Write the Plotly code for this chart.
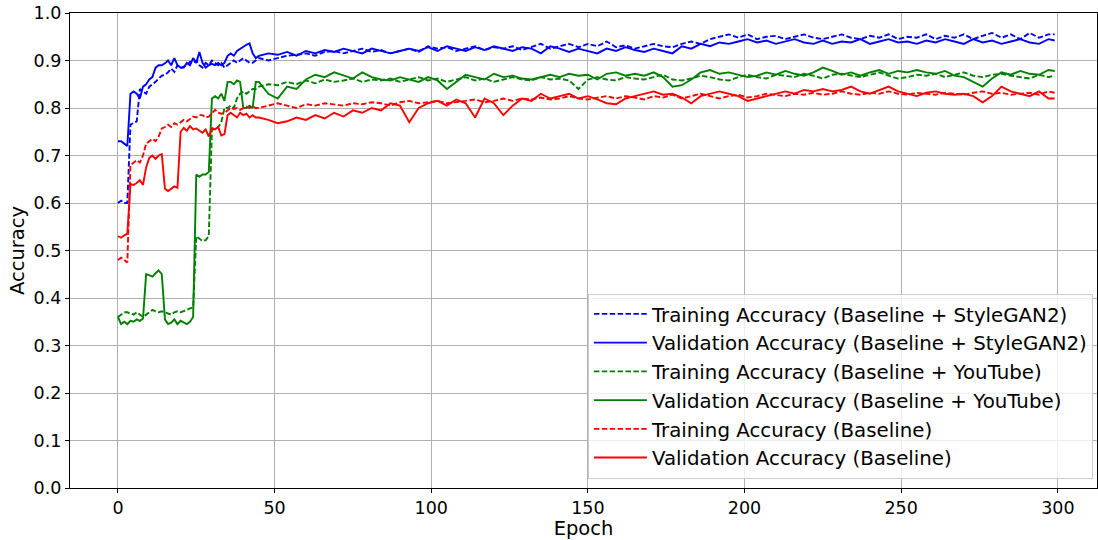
import plotly.graph_objects as go

# epochs: every epoch up to 44, then every 3rd epoch, plus the last one
epochs = list(range(0, 45)) + list(range(45, 298, 3)) + [299]

train_stylegan2 = [
    0.600, 0.605, 0.600, 0.600, 0.765, 0.768, 0.772, 0.840, 0.835, 0.830,
    0.845, 0.850, 0.855, 0.862, 0.868, 0.870, 0.875, 0.883, 0.876, 0.890,
    0.884, 0.887, 0.890, 0.897, 0.895, 0.900, 0.890, 0.885, 0.895, 0.890,
    0.900, 0.895, 0.890, 0.895, 0.885, 0.890, 0.895, 0.900, 0.895, 0.900,
    0.905, 0.900, 0.895, 0.895, 0.900,
    0.905, 0.900, 0.905, 0.910, 0.912, 0.915, 0.910, 0.918, 0.920, 0.915,
    0.920, 0.925, 0.918, 0.922, 0.915, 0.920, 0.925, 0.918, 0.930, 0.925,
    0.928, 0.920, 0.925, 0.930, 0.922, 0.928, 0.925, 0.930, 0.922, 0.928,
    0.935, 0.925, 0.930, 0.935, 0.928, 0.935, 0.930, 0.940, 0.928, 0.932,
    0.925, 0.930, 0.935, 0.930, 0.928, 0.935, 0.940, 0.935, 0.945, 0.950,
    0.955, 0.948, 0.955, 0.945, 0.950, 0.952, 0.945, 0.950, 0.955, 0.948,
    0.945, 0.950, 0.955, 0.948, 0.945, 0.952, 0.948, 0.955, 0.945, 0.950,
    0.948, 0.955, 0.945, 0.952, 0.948, 0.955, 0.945, 0.952, 0.958, 0.948,
    0.955, 0.945, 0.958, 0.948, 0.955, 0.955,
]
val_stylegan2 = [
    0.730, 0.730, 0.725, 0.720, 0.830, 0.835, 0.830, 0.820, 0.845, 0.850,
    0.860, 0.865, 0.885, 0.890, 0.890, 0.894, 0.900, 0.890, 0.905, 0.890,
    0.885, 0.885, 0.895, 0.890, 0.905, 0.895, 0.918, 0.895, 0.885, 0.890,
    0.893, 0.890, 0.895, 0.890, 0.895, 0.910, 0.915, 0.910, 0.920, 0.925,
    0.930, 0.933, 0.936, 0.915, 0.905,
    0.910, 0.915, 0.912, 0.918, 0.910, 0.920, 0.915, 0.922, 0.918, 0.925,
    0.920, 0.915, 0.925, 0.920, 0.915, 0.920, 0.925, 0.920, 0.928, 0.920,
    0.930, 0.925, 0.920, 0.928, 0.922, 0.930, 0.925, 0.920, 0.928, 0.925,
    0.915, 0.930, 0.925, 0.918, 0.925, 0.920, 0.915, 0.925, 0.920, 0.928,
    0.922, 0.918, 0.925, 0.920, 0.915, 0.930, 0.925, 0.935, 0.930, 0.938,
    0.935, 0.940, 0.945, 0.938, 0.942, 0.935, 0.940, 0.945, 0.938, 0.935,
    0.942, 0.935, 0.940, 0.938, 0.945, 0.935, 0.940, 0.945, 0.938, 0.940,
    0.935, 0.942, 0.938, 0.945, 0.940, 0.935, 0.945, 0.938, 0.942, 0.935,
    0.940, 0.945, 0.938, 0.935, 0.945, 0.942,
]
train_youtube = [
    0.360, 0.365, 0.370, 0.370, 0.368, 0.365, 0.370, 0.365, 0.360, 0.365,
    0.370, 0.375, 0.372, 0.370, 0.372, 0.370, 0.368, 0.365, 0.370, 0.372,
    0.370, 0.372, 0.375, 0.378, 0.380, 0.530, 0.525, 0.520, 0.522, 0.530,
    0.755, 0.755, 0.760, 0.770, 0.800, 0.800, 0.805, 0.800, 0.820, 0.830,
    0.835, 0.830, 0.835, 0.840, 0.840,
    0.845, 0.850, 0.848, 0.855, 0.850, 0.858, 0.852, 0.860, 0.855, 0.858,
    0.862, 0.855, 0.860, 0.858, 0.862, 0.855, 0.860, 0.865, 0.858, 0.862,
    0.855, 0.860, 0.865, 0.858, 0.862, 0.855, 0.860, 0.865, 0.860, 0.858,
    0.865, 0.860, 0.862, 0.858, 0.840, 0.860, 0.865, 0.860, 0.858, 0.865,
    0.862, 0.860, 0.865, 0.870, 0.860, 0.858, 0.862, 0.868, 0.865, 0.860,
    0.858, 0.865, 0.870, 0.865, 0.862, 0.870, 0.868, 0.865, 0.872, 0.868,
    0.862, 0.870, 0.872, 0.868, 0.865, 0.870, 0.875, 0.868, 0.862, 0.865,
    0.870, 0.868, 0.872, 0.865, 0.870, 0.875, 0.868, 0.865, 0.870, 0.872,
    0.868, 0.865, 0.862, 0.870, 0.865, 0.868,
]
val_youtube = [
    0.360, 0.345, 0.350, 0.345, 0.352, 0.350, 0.355, 0.352, 0.357, 0.450,
    0.448, 0.445, 0.452, 0.458, 0.450, 0.355, 0.345, 0.348, 0.355, 0.345,
    0.352, 0.348, 0.345, 0.350, 0.360, 0.660, 0.655, 0.660, 0.660, 0.665,
    0.820, 0.825, 0.820, 0.830, 0.815, 0.855, 0.855, 0.850, 0.858, 0.855,
    0.800, 0.800, 0.805, 0.800, 0.855,
    0.855, 0.830, 0.820, 0.845, 0.840, 0.860, 0.870, 0.865, 0.875, 0.868,
    0.862, 0.875, 0.865, 0.860, 0.858, 0.865, 0.860, 0.855, 0.865, 0.858,
    0.840, 0.855, 0.870, 0.865, 0.860, 0.872, 0.865, 0.868, 0.862, 0.860,
    0.865, 0.870, 0.865, 0.872, 0.868, 0.870, 0.860, 0.872, 0.875, 0.868,
    0.872, 0.868, 0.875, 0.865, 0.845, 0.848, 0.860, 0.875, 0.880, 0.872,
    0.875, 0.870, 0.865, 0.868, 0.875, 0.870, 0.878, 0.872, 0.868, 0.875,
    0.885, 0.878, 0.870, 0.875, 0.868, 0.875, 0.880, 0.872, 0.878, 0.875,
    0.880, 0.875, 0.872, 0.878, 0.868, 0.865, 0.855, 0.845, 0.862, 0.875,
    0.870, 0.878, 0.872, 0.870, 0.880, 0.878,
]
train_baseline = [
    0.480, 0.485, 0.480, 0.475, 0.680, 0.685, 0.690, 0.685, 0.700, 0.725,
    0.730, 0.735, 0.730, 0.740, 0.757, 0.760, 0.765, 0.760, 0.768, 0.765,
    0.770, 0.775, 0.772, 0.778, 0.782, 0.780, 0.785, 0.785, 0.780, 0.782,
    0.790, 0.796, 0.790, 0.788, 0.790, 0.795, 0.800, 0.798, 0.800, 0.796,
    0.800, 0.803, 0.800, 0.803, 0.800,
    0.800, 0.805, 0.810, 0.805, 0.800, 0.808, 0.805, 0.810, 0.808, 0.805,
    0.810, 0.808, 0.812, 0.810, 0.805, 0.812, 0.815, 0.810, 0.812, 0.815,
    0.810, 0.812, 0.815, 0.818, 0.812, 0.815, 0.820, 0.815, 0.820, 0.818,
    0.822, 0.818, 0.820, 0.825, 0.820, 0.818, 0.822, 0.825, 0.820, 0.825,
    0.822, 0.818, 0.825, 0.822, 0.828, 0.820, 0.825, 0.830, 0.825, 0.820,
    0.825, 0.828, 0.822, 0.825, 0.830, 0.828, 0.825, 0.830, 0.828, 0.832,
    0.828, 0.830, 0.835, 0.830, 0.828, 0.832, 0.830, 0.835, 0.830, 0.828,
    0.832, 0.830, 0.828, 0.832, 0.830, 0.828, 0.832, 0.835, 0.830, 0.832,
    0.828, 0.830, 0.832, 0.828, 0.835, 0.832,
]
val_baseline = [
    0.530, 0.527, 0.532, 0.535, 0.640, 0.638, 0.642, 0.648, 0.638, 0.675,
    0.695, 0.700, 0.693, 0.700, 0.703, 0.630, 0.625, 0.630, 0.635, 0.632,
    0.750, 0.758, 0.752, 0.762, 0.755, 0.757, 0.752, 0.748, 0.755, 0.740,
    0.758, 0.755, 0.760, 0.742, 0.745, 0.785, 0.790, 0.785, 0.780, 0.790,
    0.785, 0.788, 0.780, 0.785, 0.780,
    0.780, 0.775, 0.768, 0.772, 0.780, 0.775, 0.785, 0.778, 0.790, 0.782,
    0.795, 0.790, 0.800, 0.795, 0.810, 0.805, 0.770, 0.800, 0.810, 0.815,
    0.805, 0.818, 0.810, 0.780, 0.820, 0.810, 0.785, 0.805, 0.820, 0.815,
    0.830, 0.820, 0.825, 0.830, 0.820, 0.825, 0.818, 0.810, 0.808, 0.820,
    0.825, 0.830, 0.835, 0.828, 0.830, 0.822, 0.810, 0.825, 0.830, 0.835,
    0.830, 0.825, 0.815, 0.820, 0.825, 0.830, 0.835, 0.830, 0.838, 0.835,
    0.840, 0.835, 0.838, 0.845, 0.835, 0.830, 0.838, 0.845, 0.835, 0.830,
    0.825, 0.832, 0.835, 0.830, 0.828, 0.830, 0.825, 0.812, 0.825, 0.845,
    0.835, 0.830, 0.825, 0.835, 0.820, 0.820,
]

series = [
    ("Training Accuracy (Baseline + StyleGAN2)", train_stylegan2, "#0000ff", True),
    ("Validation Accuracy (Baseline + StyleGAN2)", val_stylegan2, "#0000ff", False),
    ("Training Accuracy (Baseline + YouTube)", train_youtube, "#008000", True),
    ("Validation Accuracy (Baseline + YouTube)", val_youtube, "#008000", False),
    ("Training Accuracy (Baseline)", train_baseline, "#ff0000", True),
    ("Validation Accuracy (Baseline)", val_baseline, "#ff0000", False),
]

x_ticks = [0, 50, 100, 150, 200, 250, 300]
y_ticks = [0.0, 0.1, 0.2, 0.3, 0.4, 0.5, 0.6, 0.7, 0.8, 0.9, 1.0]

FONT = "DejaVu Sans"

fig = go.Figure()
for i, (name, vals, color, dashed) in enumerate(series):
    fig.add_trace(go.Scatter(
        x=epochs, y=vals, mode="lines", name=name, legendgroup=f"g{i}",
        line=dict(color=color, width=1.9, dash="5.5px,2.4px" if dashed else "solid"),
    ))

axis_common = dict(
    showline=True, linecolor="black", linewidth=1.1, mirror=True,
    showgrid=True, gridcolor="#b0b0b0", gridwidth=1,
    ticks="outside", ticklen=4, tickcolor="black", tickwidth=1,
    tickfont=dict(family=FONT, size=17.5, color="black"),
    zeroline=False,
)

fig.update_layout(
    width=1098, height=540,
    margin=dict(l=70, r=1, t=13, b=52),
    paper_bgcolor="white", plot_bgcolor="white",
    font=dict(family=FONT, size=17.5, color="black"),
    xaxis=dict(range=[-15.3, 312.5], tickvals=x_ticks,
               title=dict(text="Epoch", font=dict(family=FONT, size=19.5), standoff=1),
               **axis_common),
    yaxis=dict(range=[0, 1], tickvals=y_ticks, tickformat=".1f",
               title=dict(text="Accuracy", font=dict(family=FONT, size=19.5), standoff=3),
               **axis_common),
    legend=dict(
        x=0.996, y=0.02, xanchor="right", yanchor="bottom",
        bgcolor="rgba(255,255,255,0.8)", bordercolor="#cccccc", borderwidth=1,
        font=dict(family=FONT, size=19.8, color="black"),
        tracegroupgap=0, itemwidth=53,
    ),
    showlegend=True,
)

fig.write_html("out.html")
